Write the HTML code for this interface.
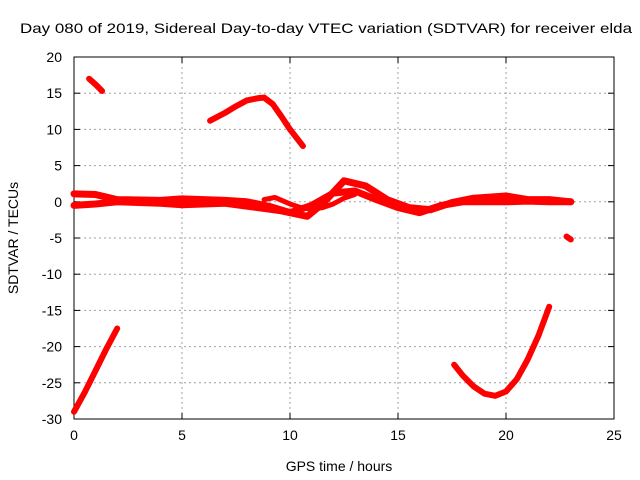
<!DOCTYPE html>
<html><head><meta charset="utf-8"><style>
body{margin:0;background:#fff}
svg{display:block;font-family:"Liberation Sans",sans-serif}
</style></head><body>
<svg width="640" height="480">
<rect width="640" height="480" fill="#fff"/>
<text x="326" y="33" font-size="14" text-anchor="middle" textLength="612" lengthAdjust="spacingAndGlyphs">Day 080 of 2019, Sidereal Day-to-day VTEC variation (SDTVAR) for receiver elda</text>
<g id="grid"></g>
<g id="axes"></g>
<g id="marks"></g>
<text x="339" y="471" font-size="14" text-anchor="middle">GPS time / hours</text>
<text x="18" y="238" font-size="14" text-anchor="middle" transform="rotate(-90 18 238)">SDTVAR / TECUs</text>
</svg>
<script>
const xTicks=[0,5,10,15,20,25];
const yTicks=[20,15,10,5,0,-5,-10,-15,-20,-25,-30];
const segLowLeftX=[0,0.5,1,1.5,2];
const segLowLeftY=[-29,-26.3,-23.3,-20.3,-17.5];
const segTopX=[0.7,1,1.3];
const segTopY=[17,16.2,15.3];
const segArcX=[6.3,7,7.5,8,8.5,8.8,9.2,9.6,10,10.6];
const segArcY=[11.2,12.3,13.2,14,14.3,14.4,13.5,11.8,10,7.7];
const segValleyX=[17.6,18,18.5,19,19.5,20,20.5,21,21.5,22];
const segValleyY=[-22.5,-24,-25.5,-26.5,-26.8,-26.2,-24.5,-21.8,-18.5,-14.5];
const segSmallX=[22.8,23];
const segSmallY=[-4.8,-5.2];
const bandAX=[0,1,2,4,5,7,8,9,10,10.8,11.5,12.5,13.5,14.5,15.5,16.5,17.5,18.5,20,21,22,23];
const bandAY=[1.1,1,0.3,0.2,0.4,0.2,0,-0.6,-1.5,-2,-0.3,2.9,2.2,0.3,-0.8,-1.1,-0.1,0.5,0.8,0.3,0.3,0];
const bandBX=[0,1,2,4,5,7,8,9,9.5,10,11,12,13,14,15,16,17,18,20,21,22,23];
const bandBY=[-0.5,-0.3,0,-0.2,-0.4,-0.2,-0.6,-1,-1.2,-1.5,-0.5,1.2,1.5,0.3,-0.8,-1.5,-0.5,0,0,0.1,0,0];
const bandCX=[8.8,9.3,10,10.5,11,11.5,12,12.5,13];
const bandCY=[0.3,0.6,-0.3,-0.8,-1,-0.8,-0.3,0.5,1];
const X0=74,X1=614,Y0=57,Y1=419;
const sx=v=>X0+(v-0)/(25-0)*(X1-X0);
const sy=v=>Y0+(20-v)/(20+30)*(Y1-Y0);
const NS="http://www.w3.org/2000/svg";
const grid=document.getElementById('grid'),axes=document.getElementById('axes'),marks=document.getElementById('marks');
function mk(t,a,p){const e=document.createElementNS(NS,t);for(const k in a)e.setAttribute(k,a[k]);p.appendChild(e);return e;}
xTicks.forEach(v=>{
 if(v>0&&v<25){const g=mk('line',{x1:sx(v),x2:sx(v),y1:Y0,y2:Y1,stroke:'#a0a0a0','stroke-dasharray':'2,3'},grid);
 
 }
 mk('line',{x1:sx(v),x2:sx(v),y1:Y1,y2:Y1-6,stroke:'#000'},axes);
 mk('line',{x1:sx(v),x2:sx(v),y1:Y0,y2:Y0+6,stroke:'#000'},axes);
 const t=mk('text',{x:sx(v),y:Y1+21,'font-size':14,'text-anchor':'middle'},axes);t.textContent=v;
 
 
});
yTicks.forEach(v=>{
 if(v<20&&v>-30){const g=mk('line',{x1:X0,x2:X1,y1:sy(v),y2:sy(v),stroke:'#a0a0a0','stroke-dasharray':'2,3'},grid);
 
 }
 mk('line',{x1:X0,x2:X0+6,y1:sy(v),y2:sy(v),stroke:'#000'},axes);
 mk('line',{x1:X1,x2:X1-6,y1:sy(v),y2:sy(v),stroke:'#000'},axes);
 const t=mk('text',{x:X0-12,y:sy(v)+5,'font-size':14,'text-anchor':'end'},axes);t.textContent=v;
 
 
});
const fr=mk('rect',{x:X0,y:Y0,width:X1-X0,height:Y1-Y0,fill:'none',stroke:'#000'},axes);


const segs=[[segLowLeftX,segLowLeftY,'track-low-left',6],[segTopX,segTopY,'track-top',6],[segArcX,segArcY,'track-arc',6],[segValleyX,segValleyY,'track-valley',6],[segSmallX,segSmallY,'track-small',6],[bandAX,bandAY,'band-a',7],[bandBX,bandBY,'band-b',7],[bandCX,bandCY,'band-c',5]];
segs.forEach(([xs,ys,n,w])=>{
 const pts=xs.map((x,i)=>sx(x)+','+sy(ys[i])).join(' ');
 const p=mk('polyline',{points:pts,fill:'none',stroke:'#ff0000','stroke-width':w,'stroke-linejoin':'round','stroke-linecap':'round'},marks);
 
 
});
</script>
</body></html>
